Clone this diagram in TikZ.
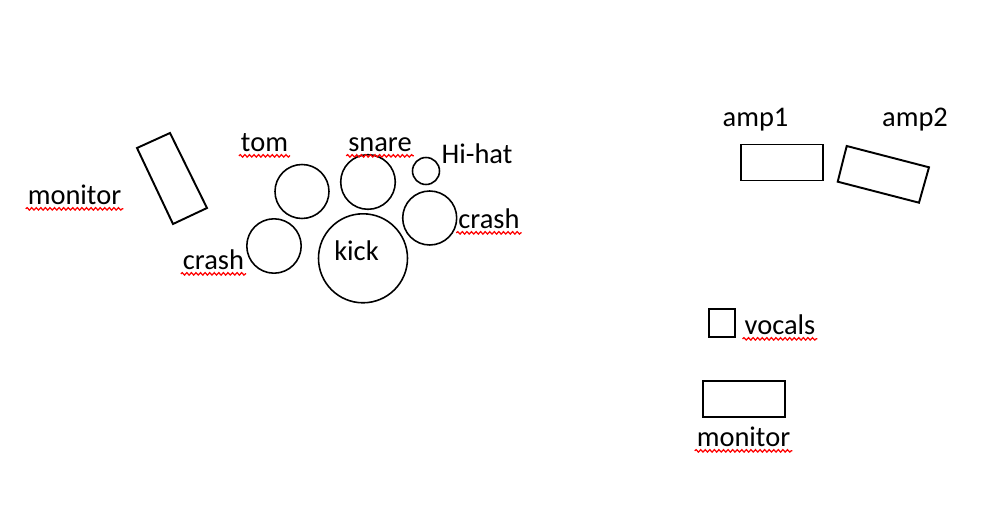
\documentclass[tikz,border=0pt]{standalone}
\usepackage{fontspec}
\setmainfont{Carlito}
\usetikzlibrary{decorations.pathmorphing}

\begin{document}
\begin{tikzpicture}[x=0.02cm, y=-0.02cm,
                    drum/.style={line width=0.9pt, black},
                    box/.style={line width=1.1pt, black},
                    lbl/.style={anchor=base, inner sep=0pt, font=\fontsize{16.2}{19}\selectfont},
                    squig/.style={red, line width=0.7pt, decorate,
                                  decoration={snake, amplitude=0.7pt, segment length=2.6pt}},
                   ]

\useasboundingbox (0,0) rectangle (1002,530);

% drum kit
\draw[drum] (302,191.5) circle (27);
\draw[drum] (368,182) circle (27.3);
\draw[drum] (426,171) circle (13.5);
\draw[drum] (429.7,218) circle (27);
\draw[drum] (274,246) circle (27.2);
\draw[drum] (363,258.3) circle (44.5);

% monitors, amps, mic
\draw[box] (137,148) -- (170,133) -- (207,208) -- (173,224) -- cycle;
\draw[box] (741,144.5) rectangle (823,180.5);
\draw[box] (846.7,146) -- (929,167.3) -- (919,202.7) -- (837.7,181.7) -- cycle;
\draw[box] (709,309) rectangle (735,337);
\draw[box] (703,381) rectangle (785,416.7);

% labels
\node[lbl] (tomlbl) at (264.5,152) {tom};
\node[lbl] (snarelbl) at (380,152) {snare};
\node[lbl] (hihatlbl) at (477,163.5) {Hi-hat};
\node[lbl] (crashr) at (489,229) {crash};
\node[lbl] (kicklbl) at (356.5,261) {kick};
\node[lbl] (crashl) at (213.5,270) {crash};
\node[lbl] (monl) at (74.5,205) {monitor};
\node[lbl] (amp1lbl) at (755.5,127) {amp1};
\node[lbl] (amp2lbl) at (915,127) {amp2};
\node[lbl] (vocalslbl) at (780,335) {vocals};
\node[lbl] (monr) at (743.5,447) {monitor};

% spell-check marks
\foreach \t in {tomlbl,snarelbl,crashr,crashl,monl,vocalslbl,monr}
  \draw[squig] ([xshift=-1pt,yshift=-2.2pt]\t.base west) -- ([xshift=1pt,yshift=-2.2pt]\t.base east);

\end{tikzpicture}
\end{document}
